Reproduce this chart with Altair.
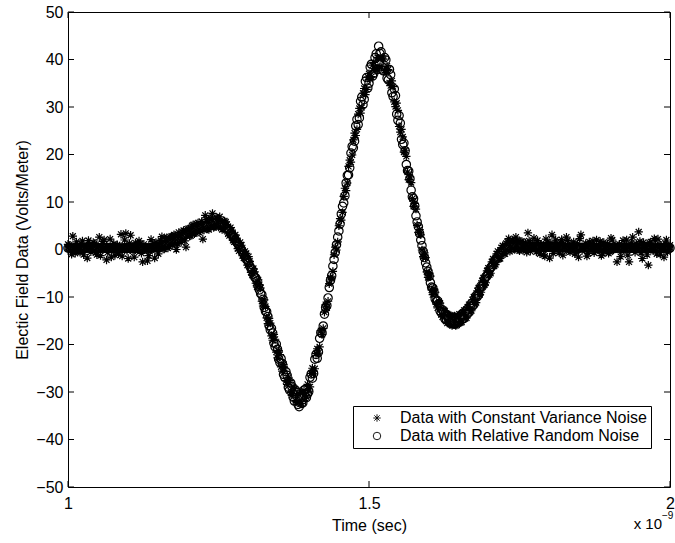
import altair as alt
import pandas as pd

# sampling grids (ns): 1.000, 1.004, ... and 1.002, 1.006, ... (2 ps overall spacing)
time_even = [round(1.0 + 0.004 * i, 3) for i in range(251)]
time_odd = [round(1.002 + 0.004 * i, 3) for i in range(250)]

# Electric field (V/m): constant-variance noise (asterisks)
const_var_even = [
    1.1, -0.2, 2.8, -0.8, 0.6, -0.6, 1.8, 0.5, -1.8, 1.0,
    0.0, 1.3, -1.1, 2.6, 0.1, 2.0, -2.2, 0.4, -1.6, 1.2,
    0.7, -0.9, 3.2, 0.2, 3.4, -1.9, 3.0, -0.3, 1.4, -0.1,
    1.2, -2.6, 0.3, -2.4, -0.4, 0.8, -1.8, 1.3, 0.3, 2.7,
    0.1, 2.5, 0.6, 2.8, 3.1, 0.0, 3.6, 1.5, 4.0, 0.5,
    4.4, 2.9, 5.2, 3.5, 5.6, 3.9, 2.2, 7.2, 4.3, 6.6,
    7.6, 4.8, 6.4, 6.9, 4.2, 6.0, 5.3, 2.9, 4.1, 1.6,
    2.4, -0.3, 0.9, -1.8, -0.8, -1.5, -4.8, -4.0, -7.1, -6.4,
    -8.1, -11.9, -12.0, -15.6, -15.5, -19.1, -18.9, -22.8, -22.1, -25.6,
    -25.1, -28.4, -27.6, -30.7, -29.3, -32.1, -30.6, -32.4, -29.7, -31.0,
    -29.8, -26.1, -26.2, -21.9, -21.8, -17.1, -16.6, -11.6, -10.9, -5.9,
    -4.6, 0.5, 1.6, 6.5, 7.8, 12.9, 14.0, 18.8, 19.9, 24.5,
    25.3, 29.7, 29.9, 33.9, 33.7, 37.0, 36.4, 39.4, 38.1, 40.3,
    38.5, 40.1, 37.3, 37.9, 34.5, 34.3, 30.1, 29.3, 24.7, 23.7,
    20.9, 16.3, 15.3, 10.7, 9.7, 5.1, 4.2, -0.1, -0.7, -4.7,
    -4.9, -8.5, -8.3, -11.5, -10.9, -13.7, -12.7, -15.1, -13.7, -15.8,
    -14.1, -16.0, -13.9, -15.4, -13.2, -14.5, -12.1, -13.2, -10.6, -11.5,
    -8.7, -9.5, -6.6, -7.4, -4.5, -5.3, -2.6, -3.5, -0.9, -2.0,
    0.4, -0.9, 1.3, 2.3, -0.1, 1.8, 2.6, 0.0, 1.7, -0.2,
    1.4, 3.5, -0.4, 1.2, 0.3, 1.9, -0.9, 0.8, -1.4, 1.5,
    -1.8, 3.1, 0.2, 1.1, -0.7, 2.1, 0.5, 2.6, -0.3, 1.0,
    1.6, -0.6, -1.6, 3.1, 0.2, 1.3, -0.8, 0.9, 1.8, -0.3,
    0.6, 1.7, -0.9, 0.3, 1.2, -0.5, 2.0, 0.1, -2.6, 1.1,
    -0.4, 0.9, 2.0, -2.6, 1.4, 0.0, 1.2, 3.7, -0.7, 1.5,
    0.2, -3.3, 1.6, -0.2, 0.8, 2.2, -1.0, 0.5, 1.3, -0.5, 0.9,
]
const_var_odd = [
    0.9, -1.0, 0.4, 1.6, -0.3, 1.2, -1.1, 0.7, 1.9, -0.5,
    1.5, -0.7, 0.8, -1.3, 1.7, 0.2, -0.6, 2.2, 0.5, -1.2,
    1.0, 0.1, -1.4, 2.0, -0.2, 1.3, 0.6, -1.6, 0.9, 1.8,
    -0.8, 1.1, 0.4, -1.3, 2.1, 0.2, 1.5, -0.9, 1.9, 0.1,
    2.2, 0.3, 2.6, 1.0, 3.0, 1.2, 2.9, 3.7, 1.8, 4.3,
    2.8, 5.0, 3.3, 5.4, 3.6, 5.9, 4.1, 6.3, 4.2, 6.4,
    4.6, 6.8, 4.7, 6.2, 4.3, 5.8, 3.3, 4.6, 1.9, 3.1,
    0.2, 1.5, -1.3, -0.4, -3.3, -2.5, -5.4, -4.7, -7.9, -7.4,
    -10.9, -10.6, -14.4, -14.5, -18.2, -17.9, -21.6, -21.3, -24.7, -24.2,
    -27.6, -26.9, -30.1, -29.0, -31.8, -30.3, -32.5, -30.2, -31.3, -28.4,
    -28.9, -25.0, -25.1, -20.9, -20.5, -17.9, -13.2, -12.3, -7.2, -6.2,
    -1.1, -0.1, 5.0, 6.2, 11.2, 12.4, 17.5, 18.4, 23.1, 24.0,
    28.5, 28.7, 32.9, 32.6, 36.3, 35.8, 38.8, 37.7, 40.4, 38.5,
    40.3, 37.7, 38.6, 35.1, 35.5, 31.1, 30.8, 25.9, 25.3, 20.5,
    19.6, 14.7, 14.1, 9.1, 8.5, 3.6, 3.1, -1.5, -1.7, -5.9,
    -5.6, -9.5, -9.0, -12.3, -11.3, -14.2, -12.9, -15.5, -13.8, -16.0,
    -14.0, -15.9, -13.6, -15.3, -12.8, -14.4, -11.6, -12.9, -10.0, -11.2,
    -8.1, -9.0, -6.0, -7.0, -3.9, -5.0, -2.0, -3.2, -0.4, -1.9,
    0.8, -0.9, 1.6, -0.4, 2.0, 0.0, 1.9, -0.3, 1.7, 0.1,
    -0.6, 1.8, 0.2, 2.4, -0.5, 1.3, 0.9, -1.1, 2.2, 0.4,
    1.4, -0.8, 2.0, 0.1, 1.5, -1.2, 0.9, 1.9, -0.5, 0.6,
    -0.9, 1.2, 2.3, -0.2, 0.7, -1.4, 1.6, 0.3, -0.7, 2.0,
    0.1, -1.3, 1.5, 0.8, -0.8, 2.4, -0.1, 1.0, 0.5, -1.5,
    1.9, 0.3, -1.2, 0.6, 2.6, -0.6, 0.4, 1.7, -1.9, 0.8,
    -1.1, 1.4, 0.0, 2.3, -0.9, 1.1, 0.3, -1.6, 2.0, 0.6,
]

# relative random noise (circles)
rel_noise_even = [
    0.3, 0.3, 0.2, 0.4, 0.3, 0.3, 0.2, 0.3, 0.4, 0.3,
    0.3, 0.2, 0.3, 0.3, 0.4, 0.3, 0.3, 0.2, 0.3, 0.3,
    0.3, 0.3, 0.2, 0.3, 0.3, 0.4, 0.3, 0.3, 0.3, 0.2,
    0.3, 0.3, 0.3, 0.3, 0.3, 0.3, 0.4, 0.5, 0.6, 0.8,
    1.0, 1.2, 1.4, 1.7, 1.8, 2.0, 2.2, 2.7, 2.9, 3.3,
    3.6, 3.7, 4.1, 4.2, 4.5, 4.5, 4.9, 5.1, 5.1, 5.5,
    5.6, 5.5, 5.8, 5.4, 5.2, 5.1, 4.4, 4.0, 3.1, 2.5,
    1.6, 0.8, 0.0, -0.9, -2.0, -2.8, -4.0, -5.2, -6.0, -7.7,
    -9.3, -10.5, -13.0, -14.1, -16.9, -17.6, -20.5, -21.0, -23.8, -24.0,
    -26.9, -26.5, -29.6, -28.8, -31.9, -30.0, -33.1, -32.4, -29.6, -31.2,
    -29.9, -26.2, -26.1, -22.1, -21.6, -17.5, -16.1, -12.2, -10.2, -6.5,
    -3.5, -0.6, 2.6, 5.4, 9.1, 11.3, 15.6, 17.2, 21.7, 22.8,
    27.4, 27.7, 32.1, 31.6, 36.2, 35.0, 39.0, 37.1, 41.2, 42.8,
    41.6, 37.6, 39.9, 35.7, 36.8, 32.2, 32.4, 27.2, 26.6, 22.1,
    20.8, 16.6, 14.9, 11.1, 9.2, 5.8, 3.4, 0.8, -1.7, -3.7,
    -5.6, -7.9, -9.0, -10.9, -11.4, -13.3, -13.2, -14.8, -14.1, -15.5,
    -15.6, -14.5, -15.3, -14.0, -14.6, -13.1, -13.5, -11.9, -11.9, -10.3,
    -9.9, -8.3, -7.8, -6.3, -5.6, -4.3, -3.6, -2.5, -1.9, -1.1,
    -0.5, 0.0, 0.4, 0.6, 0.8, 0.9, 0.9, 0.9, 0.8, 0.7,
    0.6, 0.6, 0.6, 0.6, 0.6, 0.5, 0.5, 0.5, 0.5, 0.5,
    0.5, 0.5, 0.5, 0.5, 0.5, 0.5, 0.4, 0.4, 0.4, 0.4,
    0.4, 0.4, 0.4, 0.4, 0.4, 0.4, 0.4, 0.4, 0.4, 0.4,
    0.3, 0.3, 0.3, 0.3, 0.3, 0.3, 0.3, 0.3, 0.3, 0.3,
    0.3, 0.3, 0.3, 0.3, 0.3, 0.3, 0.3, 0.3, 0.3, 0.3,
    0.3, 0.3, 0.3, 0.3, 0.3, 0.3, 0.3, 0.3, 0.3, 0.3, 0.3,
]
rel_noise_odd = [
    0.3, 0.3, 0.3, 0.2, 0.3, 0.3, 0.4, 0.3, 0.3, 0.3,
    0.3, 0.3, 0.2, 0.3, 0.3, 0.3, 0.4, 0.3, 0.3, 0.2,
    0.3, 0.3, 0.3, 0.3, 0.2, 0.3, 0.3, 0.4, 0.3, 0.3,
    0.3, 0.3, 0.3, 0.3, 0.3, 0.4, 0.4, 0.6, 0.7, 0.9,
    1.1, 1.3, 1.6, 1.7, 1.9, 2.1, 2.5, 2.7, 3.1, 3.3,
    3.7, 3.8, 4.2, 4.3, 4.6, 4.6, 5.0, 5.0, 5.4, 5.3,
    5.7, 5.5, 5.6, 5.3, 5.2, 4.6, 4.3, 3.5, 2.9, 1.9,
    1.2, 0.4, -0.5, -1.4, -2.3, -3.5, -4.3, -5.8, -6.6, -8.5,
    -9.5, -12.2, -13.1, -16.0, -16.6, -19.7, -19.9, -23.1, -23.0, -26.3,
    -25.7, -29.0, -28.1, -31.1, -29.6, -32.6, -30.4, -32.3, -29.5, -30.4,
    -26.9, -27.1, -23.1, -22.9, -18.7, -17.6, -13.6, -11.8, -8.0, -5.5,
    -2.1, 1.0, 3.9, 7.5, 9.8, 14.0, 15.7, 20.3, 21.4, 26.0,
    26.3, 31.2, 30.5, 35.4, 34.0, 38.4, 36.5, 40.4, 37.9, 41.3,
    37.8, 40.4, 36.1, 37.9, 33.0, 33.8, 28.5, 28.2, 23.2, 22.4,
    17.9, 16.5, 12.5, 10.7, 7.1, 4.8, 2.0, -0.4, -2.8, -4.6,
    -7.0, -8.1, -10.4, -10.8, -12.9, -12.7, -14.6, -13.8, -15.4, -14.4,
    -15.7, -14.3, -15.3, -13.7, -14.5, -12.7, -13.2, -11.4, -11.6, -9.7,
    -9.5, -7.7, -7.3, -5.7, -5.1, -3.8, -3.2, -2.1, -1.5, -0.8,
    -0.3, 0.2, 0.5, 0.7, 0.9, 0.9, 0.9, 0.8, 0.8, 0.6,
    0.6, 0.6, 0.6, 0.6, 0.5, 0.5, 0.5, 0.5, 0.5, 0.5,
    0.5, 0.5, 0.5, 0.5, 0.5, 0.4, 0.4, 0.4, 0.4, 0.4,
    0.4, 0.4, 0.4, 0.4, 0.4, 0.4, 0.4, 0.4, 0.4, 0.4,
    0.3, 0.3, 0.3, 0.3, 0.3, 0.3, 0.3, 0.3, 0.3, 0.3,
    0.3, 0.3, 0.3, 0.3, 0.3, 0.3, 0.3, 0.3, 0.3, 0.3,
    0.3, 0.3, 0.3, 0.3, 0.3, 0.3, 0.3, 0.3, 0.3, 0.3,
]

series_names = ["Data with Constant Variance Noise", "Data with Relative Random Noise"]
y_ticks = [-50, -40, -30, -20, -10, 0, 10, 20, 30, 40, 50]
x_ticks = [1.0, 1.5, 2.0]


def frame(times, values, name):
    m = min(len(times), len(values))
    return pd.DataFrame({"t": times[:m], "E": values[:m], "series": [name] * m})


df = pd.concat([
    frame(time_even, const_var_even, series_names[0]),
    frame(time_odd, const_var_odd, series_names[0]),
    frame(time_even, rel_noise_even, series_names[1]),
    frame(time_odd, rel_noise_odd, series_names[1]),
], ignore_index=True)

W, H = 602, 475
FONT = "Liberation Sans"
ASTERISK = "M0,-1L0,1M-1,0L1,0M-0.71,-0.71L0.71,0.71M-0.71,0.71L0.71,-0.71"
TL = 6  # inward tick length

xscale = alt.Scale(domain=[1, 2], nice=False, zero=False)
yscale = alt.Scale(domain=[-50, 50], nice=False, zero=False)
xaxis = alt.Axis(values=x_ticks, format="~g", title="Time (sec)", ticks=False,
                 domain=False, grid=False, labelFlush=False, labelPadding=8, titlePadding=6)
yaxis = alt.Axis(values=y_ticks, title="Electic Field Data (Volts/Meter)", ticks=False,
                 domain=False, grid=False, labelPadding=5, titlePadding=5)

points = alt.Chart(df).mark_point(filled=False, strokeWidth=1.2, size=70, opacity=1).encode(
    x=alt.X("t:Q", scale=xscale, axis=xaxis),
    y=alt.Y("E:Q", scale=yscale, axis=yaxis),
    shape=alt.Shape("series:N",
                    scale=alt.Scale(domain=series_names, range=[ASTERISK, "circle"]),
                    legend=alt.Legend(title=None, orient="none", legendX=285, legendY=394,
                                      direction="vertical", strokeColor="black",
                                      fillColor="white", padding=4, symbolOffset=12,
                                      labelOffset=15, labelFontSize=16, labelFont=FONT,
                                      labelColor="black", labelLimit=400, symbolSize=56,
                                      symbolStrokeWidth=0.9, symbolStrokeColor="black",
                                      rowPadding=2)),
    color=alt.value("black"),
)

ydf = pd.DataFrame({"E": y_ticks})
xdf = pd.DataFrame({"t": x_ticks})

left_ticks = alt.Chart(ydf).mark_rule(color="black", strokeWidth=1).encode(
    y=alt.Y("E:Q", scale=yscale, axis=yaxis), x=alt.value(0), x2=alt.value(TL))
right_ticks = alt.Chart(ydf).mark_rule(color="black", strokeWidth=1).encode(
    y=alt.Y("E:Q", scale=yscale, axis=yaxis), x=alt.value(W), x2=alt.value(W - TL))
bottom_ticks = alt.Chart(xdf).mark_rule(color="black", strokeWidth=1).encode(
    x=alt.X("t:Q", scale=xscale, axis=xaxis), y=alt.value(H), y2=alt.value(H - TL))
top_ticks = alt.Chart(xdf).mark_rule(color="black", strokeWidth=1).encode(
    x=alt.X("t:Q", scale=xscale, axis=xaxis), y=alt.value(0), y2=alt.value(TL))

exp_df = pd.DataFrame({"t": [2.0], "E": [-50.0]})
exp_base = alt.Chart(exp_df).mark_text(text="x 10", align="right", baseline="middle",
                                       dx=-8, dy=37, fontSize=15, font=FONT, color="black").encode(
    x=alt.X("t:Q", scale=xscale, axis=xaxis), y=alt.Y("E:Q", scale=yscale, axis=yaxis))
exp_pow = alt.Chart(exp_df).mark_text(text="\u22129", align="left", baseline="middle",
                                      dx=-8, dy=29, fontSize=10, font=FONT, color="black").encode(
    x=alt.X("t:Q", scale=xscale, axis=xaxis), y=alt.Y("E:Q", scale=yscale, axis=yaxis))

chart = alt.layer(points, left_ticks, right_ticks, bottom_ticks, top_ticks, exp_base, exp_pow).properties(
    width=W, height=H,
    autosize=alt.AutoSizeParams(type="none"),
    padding={"left": 68, "top": 12, "right": 5, "bottom": 56},
    background="white",
).configure_view(stroke="black", strokeWidth=1).configure_axis(
    labelFont=FONT, titleFont=FONT, labelFontSize=16, titleFontSize=16,
    labelColor="black", titleColor="black", titleFontWeight="normal",
)

chart.save("out.html", embed_options={"renderer": "svg", "actions": False})
